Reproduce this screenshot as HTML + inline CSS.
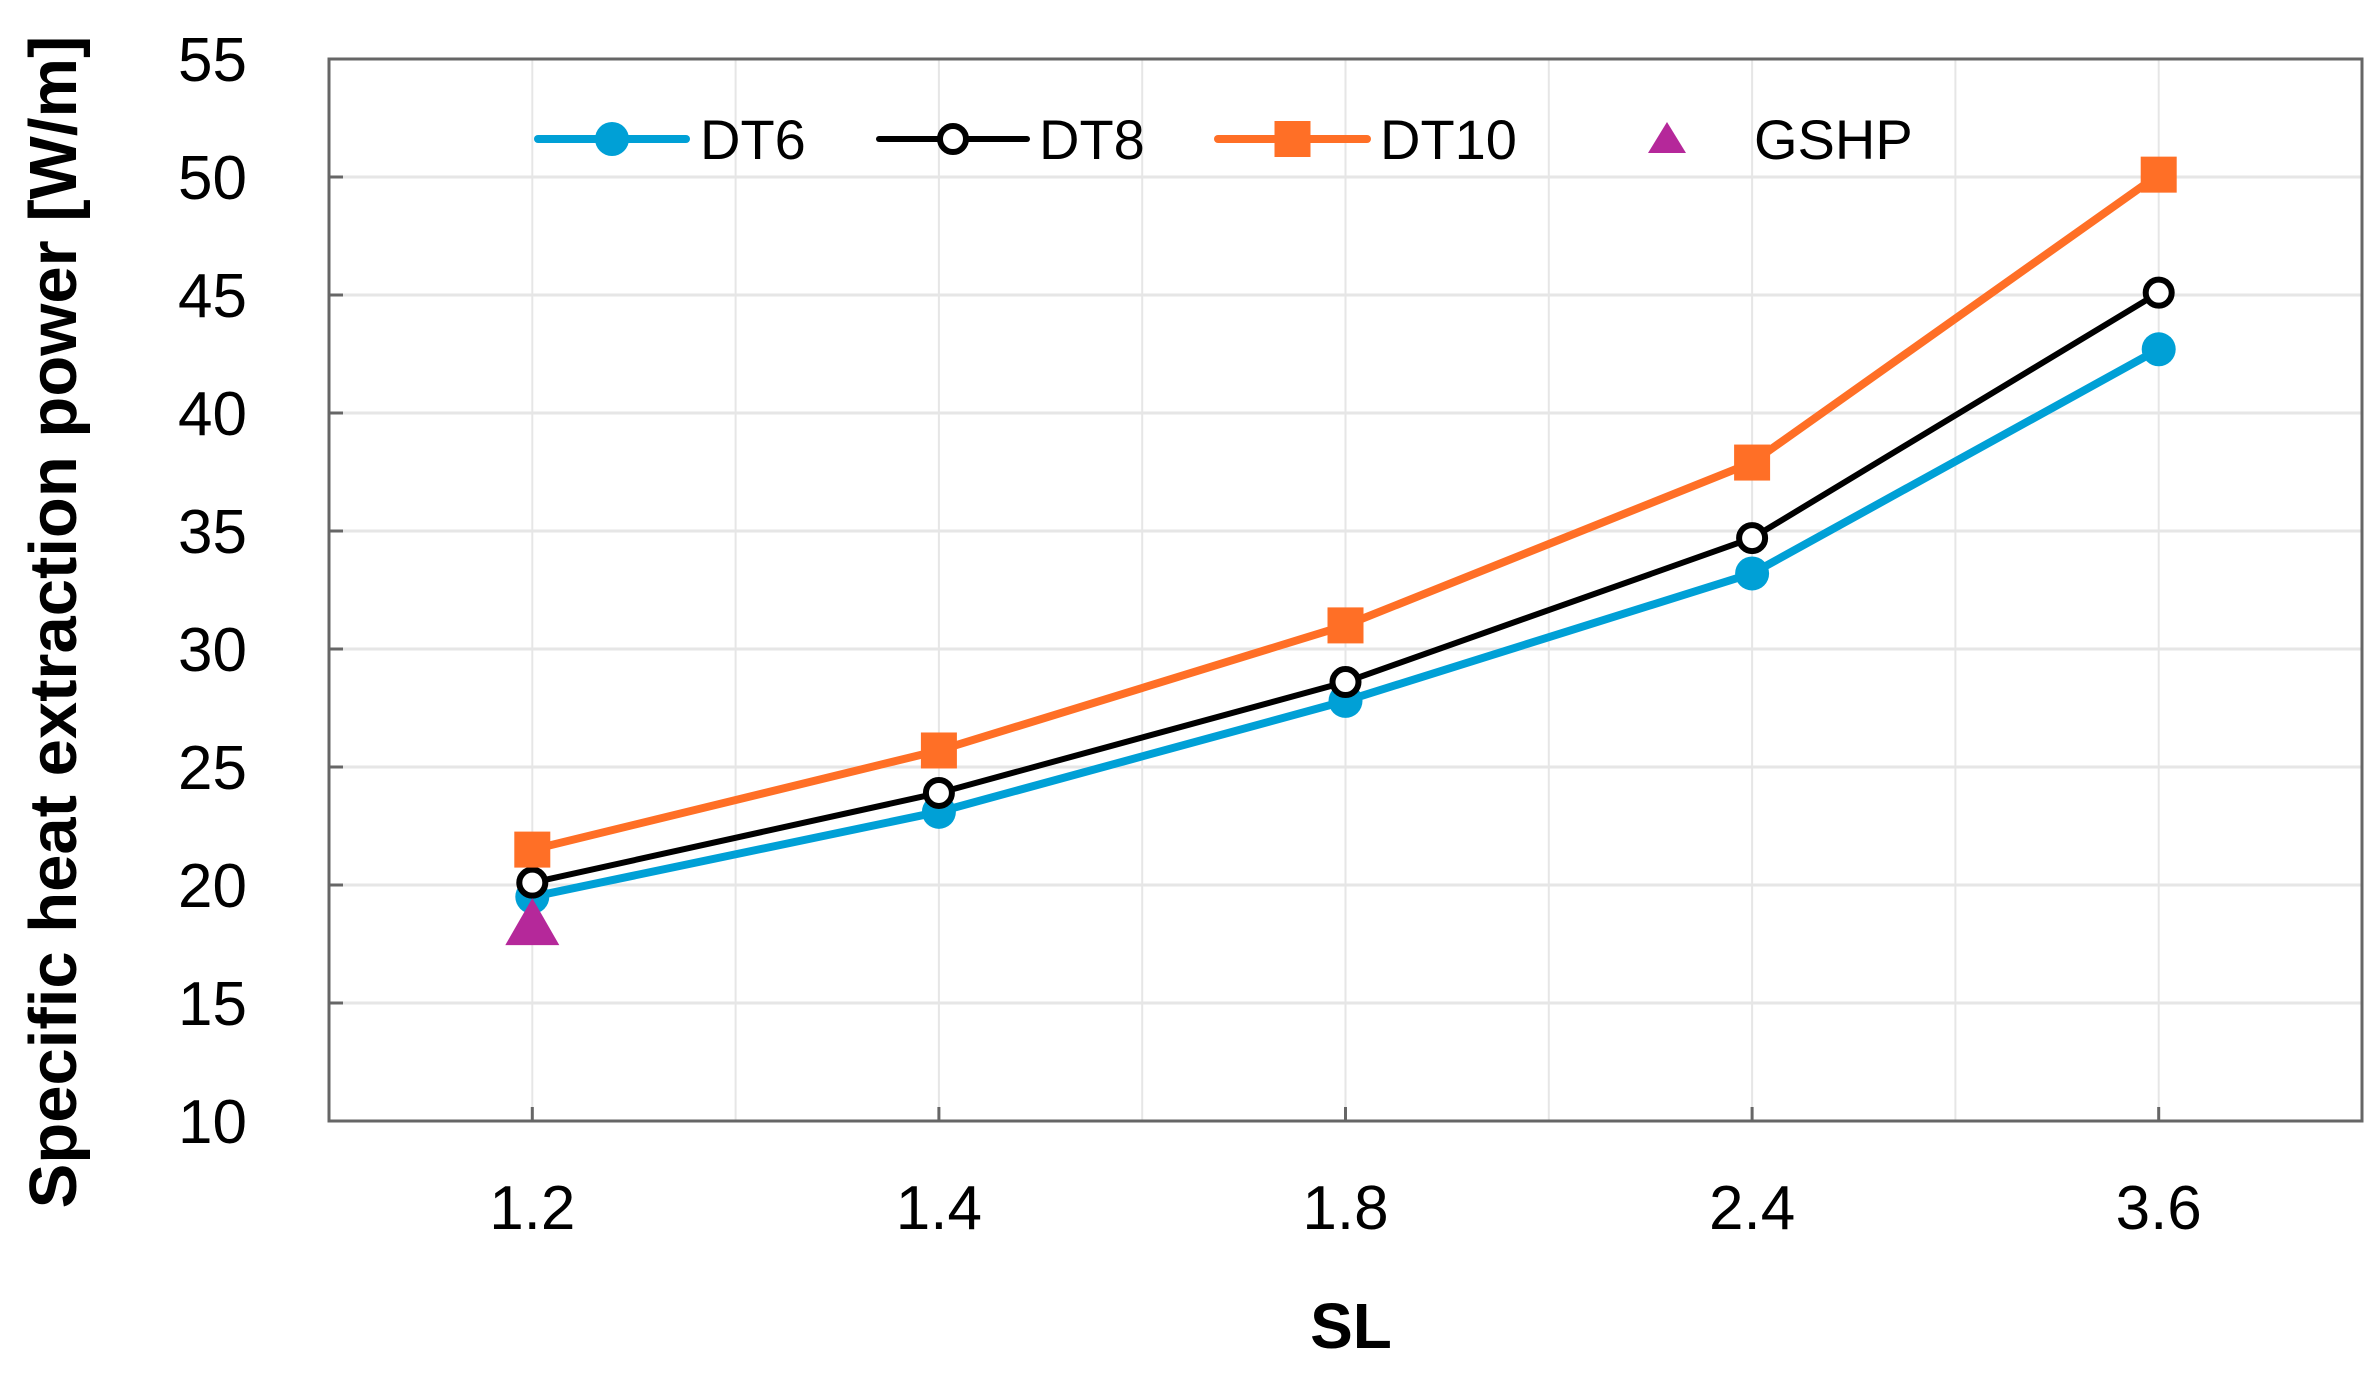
<!DOCTYPE html>
<html><head><meta charset="utf-8"><style>
html,body{margin:0;padding:0;background:#fff;}
svg{display:block;font-family:"Liberation Sans",sans-serif;}
</style></head><body>
<svg id="chart" width="2376" height="1375"></svg>
<script>
const categories = ["1.2","1.4","1.8","2.4","3.6"];
const dt6 = [19.5, 23.1, 27.8, 33.2, 42.7];
const dt8 = [20.1, 23.9, 28.6, 34.7, 45.1];
const dt10 = [21.5, 25.7, 31.0, 37.9, 50.1];
const gshpIndex = [0];
const gshp = [18.3];
const yTicks = [10,15,20,25,30,35,40,45,50,55];

const NS="http://www.w3.org/2000/svg";
const svg=document.getElementById('chart');
const L=329,R=2362,T=59,B=1121,yMin=10,yMax=55;
function xs(i){return L+(i+0.5)*(R-L)/categories.length;}
function ys(v){return B-(v-yMin)/(yMax-yMin)*(B-T);}
function mk(tag,attrs,parent){const e=document.createElementNS(NS,tag);for(const k in attrs)e.setAttribute(k,attrs[k]);(parent||svg).appendChild(e);return e;}

const grid=mk('g',{});


yTicks.forEach(t=>{
  const l=mk('line',{x1:L,x2:R,y1:ys(t),y2:ys(t),stroke:'#e6e6e6','stroke-width':3},grid);
  
  
});
for(let i=0;i<=categories.length*2;i++){
  const x=L+i*(R-L)/(categories.length*2);
  const l=mk('line',{x1:x,x2:x,y1:T,y2:B,stroke:'#e6e6e6','stroke-width':2},grid);
  
  
}
const frame=mk('rect',{x:L,y:T,width:R-L,height:B-T,fill:'none',stroke:'#666','stroke-width':3});



yTicks.forEach(t=>{
  const tk=mk('line',{x1:L,x2:L+14,y1:ys(t),y2:ys(t),stroke:'#666','stroke-width':3});
  
  
  const tx=mk('text',{x:247,y:ys(t)+22,'text-anchor':'end','font-size':62});
  tx.textContent=t;
  
  
});
categories.forEach((c,i)=>{
  const tk=mk('line',{x1:xs(i),x2:xs(i),y1:B,y2:B-14,stroke:'#666','stroke-width':3});
  
  
  const tx=mk('text',{x:xs(i),y:1229,'text-anchor':'middle','font-size':62});
  tx.textContent=c;
  
  
});

const yt=mk('text',{x:0,y:0,'text-anchor':'middle','font-size':67,'font-weight':'bold',transform:'translate(76,622) rotate(-90)'});
yt.textContent='Specific heat extraction power [W/m]';


const xt=mk('text',{x:1351,y:1348,'text-anchor':'middle','font-size':64,'font-weight':'bold'});
xt.textContent='SL';



function marker(kind,x,y,color,parent){
  if(kind==='circle')return mk('circle',{cx:x,cy:y,r:17,fill:color},parent);
  if(kind==='open')return mk('circle',{cx:x,cy:y,r:13,fill:'#fff',stroke:'#000','stroke-width':6},parent);
  if(kind==='square')return mk('rect',{x:x-18,y:y-18,width:36,height:36,fill:color},parent);
  return mk('polygon',{points:`${x},${y-27} ${x-27},${y+20} ${x+27},${y+20}`,fill:color},parent);
}
const series=[
  {name:'dt6',vals:dt6,color:'#00a0d6',w:8,m:'circle'},
  {name:'dt8',vals:dt8,color:'#000',w:6,m:'open'},
  {name:'dt10',vals:dt10,color:'#ff6f26',w:8,m:'square'}
];
series.forEach(s=>{
  const g=mk('g',{});
  
  
  const pl=mk('polyline',{points:s.vals.map((v,i)=>xs(i)+','+ys(v)).join(' '),fill:'none',stroke:s.color,'stroke-width':s.w,'stroke-linejoin':'round'},g);
  
  
  s.vals.forEach((v,i)=>{
    const m=marker(s.m,xs(i),ys(v),s.color,g);
    
    
  });
});
gshp.forEach((v,k)=>{
  const m=marker('tri',xs(gshpIndex[k]),ys(v),'#b5289a');
  
  
});

const lg=mk('g',{});


const ly=139;
[
  {x1:538,x2:686,tx:700,label:'DT6',s:series[0]},
  {x1:879,x2:1027,tx:1039,label:'DT8',s:series[1]},
  {x1:1218,x2:1367,tx:1380,label:'DT10',s:series[2]}
].forEach(e=>{
  const g=mk('g',{},lg);
  
  
  mk('line',{x1:e.x1,x2:e.x2,y1:ly,y2:ly,stroke:e.s.color,'stroke-width':e.s.w,'stroke-linecap':'round'},g);
  marker(e.s.m,(e.x1+e.x2)/2,ly,e.s.color,g);
  const t=mk('text',{x:e.tx,y:ly+20,'font-size':56},g);
  t.textContent=e.label;
});
const gg=mk('g',{},lg);


mk('polygon',{points:'1667,122 1648,153 1686,153',fill:'#b5289a'},gg);
const gt=mk('text',{x:1754,y:ly+20,'font-size':56},gg);
gt.textContent='GSHP';
</script>
</body></html>
